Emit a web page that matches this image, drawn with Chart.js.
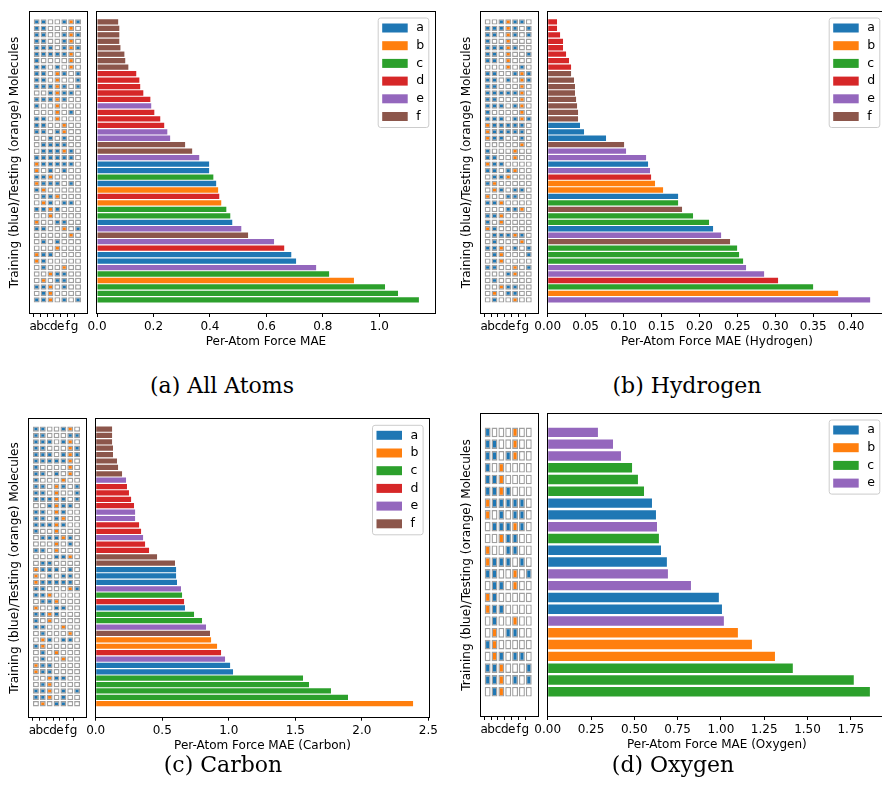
<!DOCTYPE html>
<html>
<head>
<meta charset="utf-8">
<script src="https://cdn.jsdelivr.net/npm/chart.js@4.4.1/dist/chart.umd.min.js"></script>
<style>
  html, body { margin: 0; padding: 0; width: 882px; height: 802px; overflow: hidden; background: #fff; }
  canvas { position: absolute; }
  .cap { position: absolute; font-family: "DejaVu Serif", serif; font-size: 22px; color: #000;
         transform: translate(-50%, -50%); white-space: nowrap; }
</style>
</head>
<body>
<script>
// ---- data ----
const COLS = ['a', 'b', 'c', 'd', 'e', 'f', 'g'];
const Y_TITLE = 'Training (blue)/Testing (orange) Molecules';

// (a) all atoms
const allValues = [0.075, 0.079, 0.079, 0.079, 0.083, 0.097, 0.100, 0.111, 0.139, 0.150, 0.153, 0.164,
  0.189, 0.192, 0.203, 0.224, 0.238, 0.249, 0.259, 0.312, 0.337, 0.362, 0.397, 0.397, 0.412, 0.422,
  0.429, 0.433, 0.440, 0.458, 0.472, 0.479, 0.511, 0.535, 0.627, 0.663, 0.688, 0.705, 0.776, 0.822,
  0.910, 1.020, 1.066, 1.140];
const allGroups = ['f', 'f', 'f', 'f', 'f', 'f', 'f', 'f', 'd', 'd', 'd', 'd', 'd', 'e', 'd', 'd', 'd',
  'e', 'e', 'f', 'f', 'e', 'a', 'a', 'c', 'a', 'b', 'd', 'b', 'c', 'c', 'a', 'e', 'f', 'e', 'd', 'a',
  'a', 'e', 'c', 'b', 'c', 'c', 'c'];
const allMatrix = ['BBWWBOB', 'BBWWWOW', 'BBWWBOB', 'BBWWBOW', 'BBBWBOB', 'BBBBBOW', 'BWWWWOW',
  'BBWBWOW', 'BBWOBWB', 'BBWOWWB', 'BBBOBWB', 'WWBOBBW', 'BBBOBWW', 'BWWOWWW', 'WWWOWBW', 'BBWOWWW',
  'BBWWOWW', 'BBWBOWW', 'WWBWBWW', 'WBBBBWW', 'WBBBOBW', 'BBBBBBW', 'OBBBBBW', 'OWBWBWW', 'BBOWWWW',
  'OBBBWBW', 'BOWWWWW', 'WBBOWWW', 'WOBWBBW', 'BBOBWWW', 'WWOWWWW', 'OWWBBWW', 'BBWWOWB', 'WWWWWOW',
  'WBWBWWW', 'WWWOWWW', 'OBBWWWW', 'OBWWWWW', 'WBWWOWW', 'WWOBBWW', 'WOWBBWW', 'BBOWBWW', 'WBOWWWW',
  'BBOWBWB'];
const allTicks = [0, 0.2, 0.4, 0.6, 0.8, 1.0];

// (b) hydrogen
const hydValues = [0.0123, 0.0123, 0.0163, 0.0202, 0.0202, 0.0242, 0.0281, 0.0308, 0.0308, 0.0347,
  0.0360, 0.0360, 0.0374, 0.0387, 0.0400, 0.0400, 0.0426, 0.0479, 0.0769, 0.1007, 0.1033, 0.1297,
  0.1323, 0.1349, 0.1363, 0.1415, 0.1521, 0.1719, 0.1719, 0.1771, 0.1916, 0.2127, 0.2180, 0.2286,
  0.2404, 0.2497, 0.2523, 0.2576, 0.2615, 0.2853, 0.3037, 0.3499, 0.3829, 0.4251];
const hydGroups = ['d', 'd', 'd', 'd', 'd', 'd', 'd', 'd', 'f', 'f', 'f', 'f', 'f', 'f', 'f', 'f', 'a',
  'a', 'a', 'f', 'e', 'e', 'a', 'e', 'd', 'b', 'b', 'a', 'c', 'f', 'c', 'c', 'a', 'e', 'f', 'c', 'c',
  'c', 'e', 'e', 'd', 'c', 'b', 'e'];
const hydMatrix = ['WWBOBBW', 'BBBOBWB', 'BBWOBWB', 'BWWOWWW', 'BBBOBWW', 'BBWOWWB', 'BBWOWWW',
  'WWWOWBW', 'BBWWBOB', 'BBWBWOB', 'BBWWWOW', 'BBBBBOW', 'BBWWWOW', 'BBBWBOW', 'BWWWWOW', 'BBBWBOB',
  'OBBBBBW', 'OBBBBBW', 'OBBWWBW', 'WWWWWOW', 'BWWWOWW', 'BBWWOWW', 'OBBWWWW', 'BBWBOWW', 'WBBOWWW',
  'BOWWWWW', 'WOBWBBW', 'OWWBBWW', 'BBOWWWW', 'WWWBBOW', 'BBOWWWW', 'BWOWWWW', 'OBWWWWW', 'WBBBOBW',
  'WBWWWOW', 'BBOWBWB', 'WBOWWWB', 'WBOWWWW', 'BBWWOWB', 'WWWBOWW', 'WBWWWWW', 'WWOBBWW', 'WOWBBWW',
  'WBWWOWW'];
const hydTicks = [0, 0.05, 0.10, 0.15, 0.20, 0.25, 0.30, 0.35, 0.40];

// (c) carbon
const carValues = [0.123, 0.123, 0.123, 0.130, 0.130, 0.160, 0.168, 0.198, 0.228, 0.235, 0.250, 0.266,
  0.288, 0.296, 0.296, 0.326, 0.341, 0.356, 0.371, 0.401, 0.461, 0.596, 0.604, 0.604, 0.611, 0.641,
  0.649, 0.664, 0.671, 0.739, 0.799, 0.829, 0.859, 0.867, 0.912, 0.942, 0.972, 1.010, 1.032, 1.558,
  1.603, 1.768, 1.896, 2.385];
const carGroups = ['f', 'f', 'f', 'f', 'f', 'f', 'f', 'f', 'e', 'd', 'd', 'd', 'd', 'e', 'e', 'd', 'd',
  'e', 'd', 'd', 'f', 'f', 'a', 'a', 'a', 'e', 'c', 'd', 'a', 'c', 'c', 'e', 'f', 'b', 'b', 'd', 'e',
  'a', 'a', 'c', 'c', 'c', 'c', 'b'];
const carMatrix = ['BBWWBOW', 'BBWWWBB', 'BBBWBOW', 'BBWWWOB', 'BBBWBOB', 'BBBBBOW', 'BWWWWOW',
  'BBWBWOW', 'BWWWOWW', 'BBWOBWB', 'BBWOWWB', 'BBBOBWB', 'WWBOBBW', 'BBWOBWW', 'BBWBOWW', 'BBBOBWW',
  'BWWOWWW', 'WBBBOBW', 'WWWOWBW', 'BBWOWWW', 'WWWBBOW', 'WBBWWWW', 'OBBBWBW', 'OWBWBBW', 'OBBBBBW',
  'BBWWWOB', 'BBOWWWW', 'WBBOWWW', 'OWWBBWW', 'BBOBWWW', 'BWOWWWW', 'BBWWOWW', 'WBWWWOW', 'WOBWBBW',
  'BOWWWWW', 'WBWOWWW', 'WBWWOWW', 'OBBWWWW', 'OBBWWWW', 'WWOBBWW', 'WBOWWWW', 'BBOWBWB', 'BBOWBWW',
  'WOWBBWW'];
const carTicks = [0, 0.5, 1.0, 1.5, 2.0, 2.5];

// (d) oxygen
const oxyValues = [0.290, 0.377, 0.423, 0.487, 0.521, 0.556, 0.602, 0.625, 0.631, 0.642, 0.654, 0.688,
  0.694, 0.827, 0.988, 1.006, 1.017, 1.098, 1.179, 1.312, 1.415, 1.767, 1.860];
const oxyGroups = ['e', 'e', 'e', 'c', 'c', 'c', 'a', 'a', 'e', 'c', 'a', 'a', 'e', 'e', 'a', 'a', 'e',
  'b', 'b', 'b', 'c', 'c', 'c'];
const oxyMatrix = ['BWWWOWW', 'BBWWOWW', 'BBWBOWW', 'BWOWWWW', 'BBOWWWW', 'BBOBWWW', 'OBBBBBW',
  'OWBWBBW', 'WBBBOBW', 'WWOBBWW', 'OWWBBWW', 'OBBBWBW', 'BBWWOWB', 'WBBWOWW', 'OBWWWWW', 'OBBWWWW',
  'WBWWOWW', 'WOWBBWW', 'BOWWWWW', 'WOBWBBW', 'BBOWWWB', 'BBOWBWB', 'WBOWWWW'];
const oxyTicks = [0, 0.25, 0.50, 0.75, 1.00, 1.25, 1.50, 1.75];

// ---- styling ----
const GROUP_COLORS = { a: '#1f77b4', b: '#ff7f0e', c: '#2ca02c', d: '#d62728', e: '#9467bd', f: '#8c564b' };
const CELL_COLORS = { B: '#1f77b4', O: '#ff7f0e', W: '#ffffff' };
const FONT_SIZE = 12;
const LINE_H = FONT_SIZE * 1.2;
const X_AXIS_H = 40;

Chart.defaults.font.family = "'DejaVu Sans', sans-serif";
Chart.defaults.font.size = FONT_SIZE;
Chart.defaults.color = '#000';

// black box round the plot area, like matplotlib spines
const framePlugin = {
  id: 'frame',
  afterDatasetsDraw(chart) {
    const { ctx, chartArea: a } = chart;
    ctx.save();
    ctx.strokeStyle = '#000';
    ctx.lineWidth = 1;
    const l = Math.round(a.left) - 0.5, t = Math.round(a.top) - 0.5;
    ctx.strokeRect(l, t, Math.round(a.right) - Math.round(a.left) + 1, Math.round(a.bottom) - Math.round(a.top) + 1);
    ctx.restore();
  }
};

// legend drawn inside the plot, top right
const boxLegend = {
  id: 'boxLegend',
  afterDraw(chart, args, opts) {
    if (!opts || !opts.items) return;
    const { ctx, chartArea: a } = chart;
    const rowH = 17.7, w = 50.6, h = rowH * (opts.items.length - 1) + 21;
    const left = a.right - 6.7 - w, top = a.top + 5.5;
    ctx.save();
    ctx.beginPath();
    ctx.roundRect(left + 0.5, top + 0.5, w, h, 2.5);
    ctx.fillStyle = 'rgba(255,255,255,0.8)';
    ctx.fill();
    ctx.strokeStyle = '#cccccc';
    ctx.lineWidth = 1;
    ctx.stroke();
    ctx.font = (FONT_SIZE + 0.5) + "px 'DejaVu Sans'";
    ctx.textBaseline = 'middle';
    ctx.textAlign = 'left';
    opts.items.forEach((g, i) => {
      const cy = top + 10.5 + i * rowH;
      ctx.fillStyle = GROUP_COLORS[g];
      ctx.fillRect(left + 4.5, cy - 4.5, 25.5, 9);
      ctx.fillStyle = '#000';
      ctx.fillText(g, left + 38.5, cy);
    });
    ctx.restore();
  }
};
Chart.register(framePlugin, boxLegend);

const PANELS = [
  { left: 0, top: 0, width: 441, height: 360, areaTop: 12, areaBottom: 313, matL: 30, matR: 87,
    barL: 97, barR: 435, yTitleX: 15, xMax: 1.197, dec: 1, barPct: 0.82,
    values: allValues, groups: allGroups, matrix: allMatrix, ticks: allTicks,
    legend: ['a', 'b', 'c', 'd', 'e', 'f'], xTitle: 'Per-Atom Force MAE',
    caption: '(a) All Atoms', capX: 222, capY: 385 },
  { left: 441, top: 0, width: 446, height: 360, areaTop: 12, areaBottom: 313, matL: 481, matR: 537.7,
    barL: 547.7, barR: 886, yTitleX: 466.5, xMax: 0.446, dec: 2, barPct: 0.82,
    values: hydValues, groups: hydGroups, matrix: hydMatrix, ticks: hydTicks,
    legend: ['a', 'b', 'c', 'd', 'e', 'f'], xTitle: 'Per-Atom Force MAE (Hydrogen)',
    caption: '(b) Hydrogen', capX: 687, capY: 385 },
  { left: 0, top: 400, width: 441, height: 360, areaTop: 419.3, areaBottom: 716.7, matL: 29.3, matR: 86,
    barL: 95.7, barR: 429.3, yTitleX: 14.7, xMax: 2.507, dec: 1, barPct: 0.82,
    values: carValues, groups: carGroups, matrix: carMatrix, ticks: carTicks,
    legend: ['a', 'b', 'c', 'd', 'e', 'f'], xTitle: 'Per-Atom Force MAE (Carbon)',
    caption: '(c) Carbon', capX: 223, capY: 764 },
  { left: 441, top: 400, width: 446, height: 360, areaTop: 414, areaBottom: 716, matL: 481, matR: 537.7,
    barL: 547.7, barR: 886, yTitleX: 466.5, xMax: 1.953, dec: 2, barPct: 0.8,
    values: oxyValues, groups: oxyGroups, matrix: oxyMatrix, ticks: oxyTicks,
    legend: ['a', 'b', 'c', 'e'], xTitle: 'Per-Atom Force MAE (Oxygen)',
    caption: '(d) Oxygen', capX: 673, capY: 764 }
];

function addCanvas(p) {
  const c = document.createElement('canvas');
  c.width = p.width;
  c.height = p.height;
  c.style.left = p.left + 'px';
  c.style.top = p.top + 'px';
  document.body.appendChild(c);
  return c;
}

function rowAxis(n, extra) {
  return Object.assign({
    type: 'linear', reverse: true, min: -1, max: n + 0.5,
    afterBuildTicks: s => { s.ticks = Array.from({ length: n }, (_, i) => ({ value: i })); },
    ticks: { display: false }, grid: { display: false }, border: { display: false }
  }, extra);
}

function bottomAxis(extra) {
  return Object.assign({
    type: 'linear',
    afterFit: s => { s.height = X_AXIS_H; },
    ticks: { autoSkip: false, maxRotation: 0, minRotation: 0, padding: 3 },
    grid: { drawOnChartArea: false, drawTicks: true, tickLength: 4, tickColor: '#000', tickWidth: 1 },
    border: { display: false }
  }, extra);
}

function makeMatrix(p) {
  const n = p.matrix.length;
  const top = p.areaTop - p.top, bottom = p.areaBottom - p.top;
  const yAxisW = p.matL - p.left;
  new Chart(addCanvas(p), {
    type: 'bar',
    data: {
      datasets: COLS.map((col, c) => ({
        data: p.matrix.map((row, i) => ({ y: i, x: [c + 0.07, c + 0.93] })),
        backgroundColor: p.matrix.map(row => CELL_COLORS[row[c]]),
        borderColor: '#a0a0a0',
        borderWidth: 1.4,
        borderSkipped: false,
        barPercentage: p.barPct + 0.02,
        categoryPercentage: 1,
        grouped: false
      }))
    },
    options: {
      indexAxis: 'y',
      responsive: false,
      animation: false,
      events: [],
      layout: { padding: { left: 0, right: p.width - (p.matR - p.left), top: top, bottom: p.height - bottom - X_AXIS_H } },
      plugins: { legend: { display: false }, tooltip: { enabled: false } },
      scales: {
        y: rowAxis(n, {
          display: true,
          afterFit: s => { s.width = yAxisW; },
          title: { display: true, text: Y_TITLE, padding: { top: p.yTitleX - p.left - LINE_H / 2, bottom: 0 } }
        }),
        x: bottomAxis({
          min: -0.47, max: 7.8,
          afterBuildTicks: s => { s.ticks = COLS.map((_, c) => ({ value: c })); },
          ticks: { autoSkip: false, maxRotation: 0, minRotation: 0, padding: 3, callback: v => COLS[v] }
        })
      }
    }
  });
}

function makeBars(p) {
  const n = p.values.length;
  const top = p.areaTop - p.top, bottom = p.areaBottom - p.top;
  const rows = p.values.map((v, i) => ({ x: v, y: i, g: p.groups[i] }));
  new Chart(addCanvas(p), {
    type: 'bar',
    data: {
      datasets: p.legend.map(g => ({
        label: g,
        data: rows.filter(r => r.g === g),
        backgroundColor: GROUP_COLORS[g],
        borderWidth: 0,
        barPercentage: p.barPct,
        categoryPercentage: 1,
        grouped: false
      }))
    },
    options: {
      indexAxis: 'y',
      responsive: false,
      animation: false,
      events: [],
      layout: { padding: { left: p.barL - p.left, right: p.width - (p.barR - p.left), top: top, bottom: p.height - bottom - X_AXIS_H } },
      plugins: { legend: { display: false }, tooltip: { enabled: false }, boxLegend: { items: p.legend } },
      scales: {
        y: rowAxis(n, { display: false }),
        x: bottomAxis({
          min: 0, max: p.xMax,
          afterBuildTicks: s => { s.ticks = p.ticks.map(v => ({ value: v })); },
          ticks: { autoSkip: false, maxRotation: 0, minRotation: 0, padding: 3, callback: v => v.toFixed(p.dec) },
          title: { display: true, text: p.xTitle, padding: { top: 0, bottom: 4 } }
        })
      }
    }
  });
}

PANELS.forEach(p => {
  makeMatrix(p);
  makeBars(p);
  const cap = document.createElement('div');
  cap.className = 'cap';
  cap.textContent = p.caption;
  cap.style.left = p.capX + 'px';
  cap.style.top = p.capY + 'px';
  document.body.appendChild(cap);
});
</script>
</body>
</html>
